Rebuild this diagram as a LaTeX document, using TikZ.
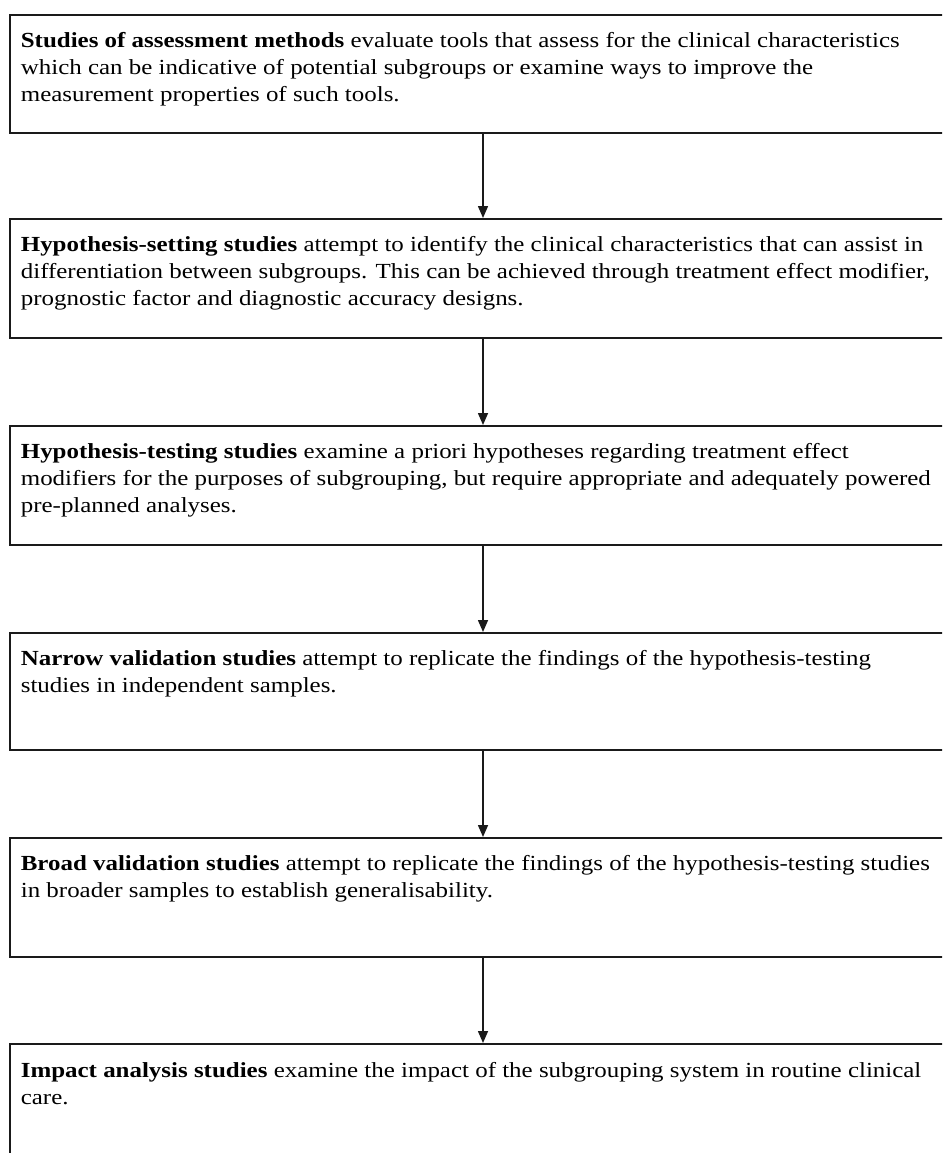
\documentclass[tikz,border=0pt]{standalone}
\usepackage{fontspec}
\setmainfont{Liberation Serif}[FakeStretch=1.16]
\usetikzlibrary{arrows.meta}
\definecolor{lineink}{HTML}{1A1A1A}
\newcommand{\stagetext}[2]{\parbox[t][#1][t]{930pt}{\fontsize{21.5}{27}\selectfont\raggedright\vspace*{18pt}#2}}
\tikzset{
  stagebox/.style={draw=lineink, line width=1.7pt, anchor=north west, inner xsep=11pt, inner ysep=0pt, text=black},
  flowarrow/.style={draw=lineink, line width=1.5pt, -{Triangle[width=10pt,length=12pt]}}
}
\begin{document}
\begin{tikzpicture}[x=1pt,y=-1pt]
\useasboundingbox (0,0) rectangle (942,1153);
\clip (0,0) rectangle (942,1153);
\fill[white] (0,0) rectangle (942,1153);
\node[stagebox] (b1) at (9,14) {\stagetext{118pt}{\textbf{Studies of assessment methods} evaluate tools that assess for the clinical characteristics\\ which can be indicative of potential subgroups or examine ways to improve the\\ measurement properties of such tools.}};
\node[stagebox] (b2) at (9,218) {\stagetext{119pt}{\textbf{Hypothesis-setting studies} attempt to identify the clinical characteristics that can assist in\\ differentiation between subgroups. This can be achieved through treatment effect modifier,\\ prognostic factor and diagnostic accuracy designs.}};
\node[stagebox] (b3) at (9,425) {\stagetext{119pt}{\textbf{Hypothesis-testing studies} examine a priori hypotheses regarding treatment effect\\ modifiers for the purposes of subgrouping, but require appropriate and adequately powered\\ pre-planned analyses.}};
\node[stagebox] (b4) at (9,632) {\stagetext{117pt}{\textbf{Narrow validation studies} attempt to replicate the findings of the hypothesis-testing\\ studies in independent samples.}};
\node[stagebox] (b5) at (9,837) {\stagetext{119pt}{\textbf{Broad validation studies} attempt to replicate the findings of the hypothesis-testing studies\\ in broader samples to establish generalisability.}};
\node[stagebox] (b6) at (9,1043) {\stagetext{140pt}{\textbf{Impact analysis studies} examine the impact of the subgrouping system in routine clinical\\ care.}};
\coordinate (ax) at (483,0);
\draw[flowarrow] (b1.south -| ax) -- (b2.north -| ax);
\draw[flowarrow] (b2.south -| ax) -- (b3.north -| ax);
\draw[flowarrow] (b3.south -| ax) -- (b4.north -| ax);
\draw[flowarrow] (b4.south -| ax) -- (b5.north -| ax);
\draw[flowarrow] (b5.south -| ax) -- (b6.north -| ax);
\end{tikzpicture}
\end{document}
